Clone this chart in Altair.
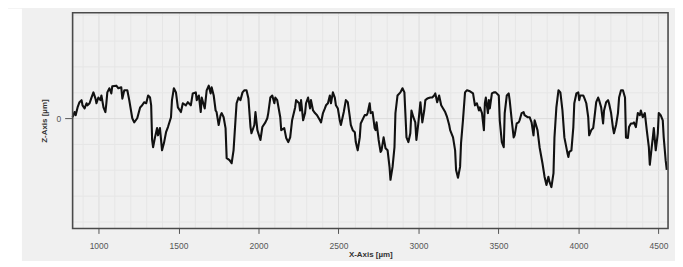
import altair as alt
import pandas as pd

# Profile trace (X in µm, Z in µm)
x_um = [838, 850, 857, 869, 881, 894, 900, 913, 925, 931, 944, 956, 968, 981, 987, 999,
        1012, 1018, 1031, 1043, 1049, 1055, 1068, 1080, 1086, 1111, 1124, 1142, 1149, 1161,
        1180, 1192, 1211, 1223, 1242, 1260, 1273, 1285, 1298, 1310, 1322, 1329, 1335, 1341,
        1353, 1366, 1372, 1384, 1397, 1409, 1422, 1434, 1453, 1459, 1471, 1484, 1496, 1515,
        1527, 1546, 1558, 1577, 1589, 1608, 1614, 1627, 1639, 1645, 1664, 1676, 1689, 1701,
        1707, 1720, 1732, 1738, 1751, 1763, 1770, 1782, 1794, 1801, 1819, 1832, 1844, 1856,
        1863, 1875, 1887, 1900, 1912, 1925, 1937, 1950, 1956, 1974, 1981, 1993, 2012, 2024,
        2043, 2055, 2061, 2074, 2086, 2099, 2105, 2117, 2136, 2142, 2161, 2173, 2186, 2198,
        2210, 2229, 2235, 2254, 2260, 2266, 2279, 2291, 2297, 2310, 2322, 2328, 2341, 2353,
        2366, 2384, 2391, 2403, 2415, 2422, 2434, 2446, 2453, 2465, 2477, 2484, 2496, 2508,
        2515, 2533, 2546, 2558, 2571, 2577, 2589, 2602, 2608, 2620, 2633, 2639, 2664, 2676,
        2682, 2695, 2701, 2713, 2726, 2732, 2738, 2751, 2763, 2769, 2782, 2794, 2807, 2819,
        2825, 2838, 2850, 2856, 2869, 2887, 2900, 2912, 2918, 2925, 2937, 2949, 2956, 2968,
        2980, 2987, 2999, 3012, 3018, 3024, 3036, 3043, 3055, 3074, 3086, 3098, 3105, 3117,
        3129, 3142, 3154, 3167, 3179, 3192, 3198, 3216, 3229, 3235, 3247, 3260, 3266, 3278,
        3291, 3303, 3322, 3341, 3353, 3365, 3378, 3384, 3397, 3409, 3415, 3421, 3434, 3440,
        3446, 3459, 3471, 3483, 3502, 3508, 3521, 3533, 3539, 3552, 3564, 3570, 3583, 3595,
        3601, 3614, 3626, 3632, 3645, 3657, 3663, 3682, 3695, 3707, 3719, 3726, 3744, 3757,
        3775, 3788, 3800, 3812, 3819, 3831, 3844, 3850, 3862, 3875, 3887, 3900, 3912, 3931,
        3937, 3943, 3956, 3968, 3974, 3987, 3999, 4005, 4011, 4030, 4036, 4049, 4061, 4067,
        4080, 4092, 4098, 4111, 4123, 4129, 4142, 4154, 4160, 4173, 4185, 4191, 4204, 4216,
        4222, 4235, 4247, 4254, 4266, 4278, 4291, 4297, 4309, 4316, 4328, 4340, 4347, 4359,
        4371, 4384, 4390, 4402, 4415, 4427, 4440, 4446, 4458, 4465, 4471, 4483, 4496, 4502,
        4514, 4527, 4533, 4545, 4552]

z_um = [0.02, 0.12, 0.06, 0.21, 0.31, 0.35, 0.25, 0.19, 0.29, 0.25, 0.29, 0.40, 0.50, 0.38, 0.29, 0.40,
        0.35, 0.44, 0.21, 0.12, 0.29, 0.50, 0.58, 0.48, 0.62, 0.63, 0.58, 0.60, 0.38, 0.54,
        0.54, 0.35, 0.00, -0.08, 0.00, 0.21, 0.25, 0.31, 0.29, 0.44, 0.40, 0.25, -0.42, -0.56,
        -0.37, -0.19, -0.33, -0.19, -0.62, -0.48, -0.27, -0.17, 0.02, 0.35, 0.58, 0.50, 0.21, 0.12,
        0.29, 0.25, 0.31, 0.25, 0.48, 0.50, 0.35, 0.44, 0.12, 0.40, 0.19, 0.54, 0.63, 0.48,
        0.60, 0.44, 0.15, 0.12, -0.13, 0.06, 0.10, 0.02, -0.19, -0.77, -0.81, -0.87, -0.62, -0.04,
        0.29, 0.40, 0.35, 0.50, 0.54, 0.54, 0.38, -0.17, -0.29, -0.13, 0.12, -0.23, -0.42, -0.17,
        -0.08, 0.00, 0.10, 0.40, 0.44, 0.29, 0.40, 0.35, 0.02, -0.23, -0.19, -0.38, -0.46, -0.37,
        -0.04, 0.21, 0.35, 0.29, 0.15, 0.35, -0.04, 0.10, 0.29, 0.40, 0.19, 0.35, 0.15, 0.10,
        0.06, -0.04, -0.08, 0.10, 0.19, 0.25, 0.29, 0.44, 0.29, 0.50, 0.40, 0.25, 0.19, -0.04,
        -0.13, 0.12, 0.35, 0.31, 0.02, -0.13, -0.23, -0.27, -0.46, -0.62, -0.37, -0.10, 0.06, 0.06,
        0.10, 0.29, 0.10, 0.12, -0.19, -0.23, -0.08, -0.42, -0.65, -0.62, -0.37, -0.58, -0.62, -0.94,
        -1.19, -0.94, -0.56, 0.10, 0.44, 0.50, 0.58, 0.50, 0.10, -0.37, -0.46, -0.29, 0.15, 0.02,
        -0.08, -0.42, -0.10, 0.31, 0.12, -0.08, 0.15, 0.35, 0.38, 0.40, 0.40, 0.44, 0.48, 0.31,
        0.44, 0.25, 0.19, 0.12, 0.02, -0.13, -0.23, -0.37, -0.62, -1.00, -1.15, -0.94, -0.48, -0.04,
        0.50, 0.54, 0.52, 0.48, 0.25, 0.29, 0.15, 0.21, 0.10, -0.23, 0.29, 0.40, 0.10, 0.35,
        0.19, 0.48, 0.50, 0.50, 0.44, -0.04, -0.46, -0.56, 0.10, 0.44, 0.48, 0.35, -0.04, -0.37,
        -0.33, -0.10, -0.08, -0.04, 0.10, 0.12, 0.06, 0.02, 0.02, -0.08, -0.33, -0.04, -0.23, -0.56,
        -0.87, -1.13, -1.29, -1.13, -1.23, -1.33, -1.06, -0.37, 0.21, 0.54, 0.50, 0.15, -0.37, -0.67,
        -0.75, -0.65, -0.62, -0.17, 0.29, 0.48, 0.50, 0.35, 0.44, 0.44, 0.40, 0.29, 0.02, -0.33,
        -0.23, -0.19, -0.04, 0.31, 0.40, 0.35, 0.21, -0.10, 0.15, 0.31, 0.35, 0.29, 0.10, -0.19,
        -0.29, -0.13, 0.10, 0.40, 0.54, 0.54, 0.40, -0.37, -0.38, -0.17, -0.10, -0.10, -0.08, -0.17,
        0.10, 0.06, 0.15, 0.02, 0.10, -0.23, -0.56, -0.90, -0.56, -0.37, -0.19, -0.62, -0.29, 0.10,
        0.06, -0.04, -0.37, -0.81, -1.00]

x_domain = [838, 4560]
z_domain = [-2.13, 2.04]
x_grid_values = list(range(900, 4600, 100))
z_grid_values = [-2.0, -1.5, -1.0, -0.5, 0.0, 0.5, 1.0, 1.5, 2.0]

df = pd.DataFrame({"x": x_um, "z": z_um})

FONT = "Liberation Sans"
W, H = 599, 217

x_axis = alt.Axis(
    values=x_grid_values,
    labelExpr="datum.value % 500 === 0 ? format(datum.value, 'd') : ''",
    title="X-Axis [µm]",
    titleFont=FONT, titleFontSize=8, titleFontWeight="bold", titleColor="#333333",
    titlePadding=1,
    labelFont=FONT, labelFontSize=8.5, labelColor="#555555", labelPadding=8,
    tickSize=5, tickColor="#555555", tickWidth=1,
    tickOpacity={"condition": {"test": "datum.value % 500 === 0", "value": 1}, "value": 0},
    grid=True,
    gridColor={"condition": {"test": "datum.value % 500 === 0", "value": "#dcdcdc"}, "value": "#e6e6e6"},
    gridWidth=1,
    domain=False,
)

z_axis = alt.Axis(
    values=z_grid_values,
    labelExpr="datum.value === 0 ? '0' : ''",
    title="Z-Axis [µm]",
    titleFont=FONT, titleFontSize=8, titleFontWeight="bold", titleColor="#333333",
    titlePadding=8,
    labelFont=FONT, labelFontSize=8.5, labelColor="#555555", labelPadding=4,
    tickSize=8, tickColor="#555555", tickWidth=1,
    tickOpacity={"condition": {"test": "datum.value === 0", "value": 1}, "value": 0},
    grid=True,
    gridColor={"condition": {"test": "datum.value === 0", "value": "#dcdcdc"}, "value": "#e6e6e6"},
    gridWidth=1,
    domain=False,
)

line = alt.Chart(df).mark_line(color="#111111", strokeWidth=2.1, strokeJoin="round").encode(
    x=alt.X("x:Q", scale=alt.Scale(domain=x_domain, nice=False, zero=False), axis=x_axis),
    y=alt.Y("z:Q", scale=alt.Scale(domain=z_domain, nice=False, zero=False), axis=z_axis),
)

one = pd.DataFrame({"k": [0]})

# white strip at the left edge of the page, outside the grey panel
strip = alt.Chart(one).mark_rect(color="white").encode(
    x=alt.value(-65), x2=alt.value(-51), y=alt.value(-4), y2=alt.value(260)
)

# dark frame around the plot area
frame = alt.Chart(one).mark_rect(fillOpacity=0, stroke="#4a4a4a", strokeWidth=1.6).encode(
    x=alt.value(0), x2=alt.value(W), y=alt.value(0), y2=alt.value(H)
)

chart = alt.layer(strip, line, frame).properties(
    width=W, height=H,
    background="#f0f0f0",
    padding={"left": 65, "top": 4, "right": 7, "bottom": 32},
    autosize=alt.AutoSizeParams(type="none"),
).configure_view(
    stroke=None, fill="#f0f0f0"
)

chart.save("out.html", embed_options={"renderer": "svg", "actions": False})
